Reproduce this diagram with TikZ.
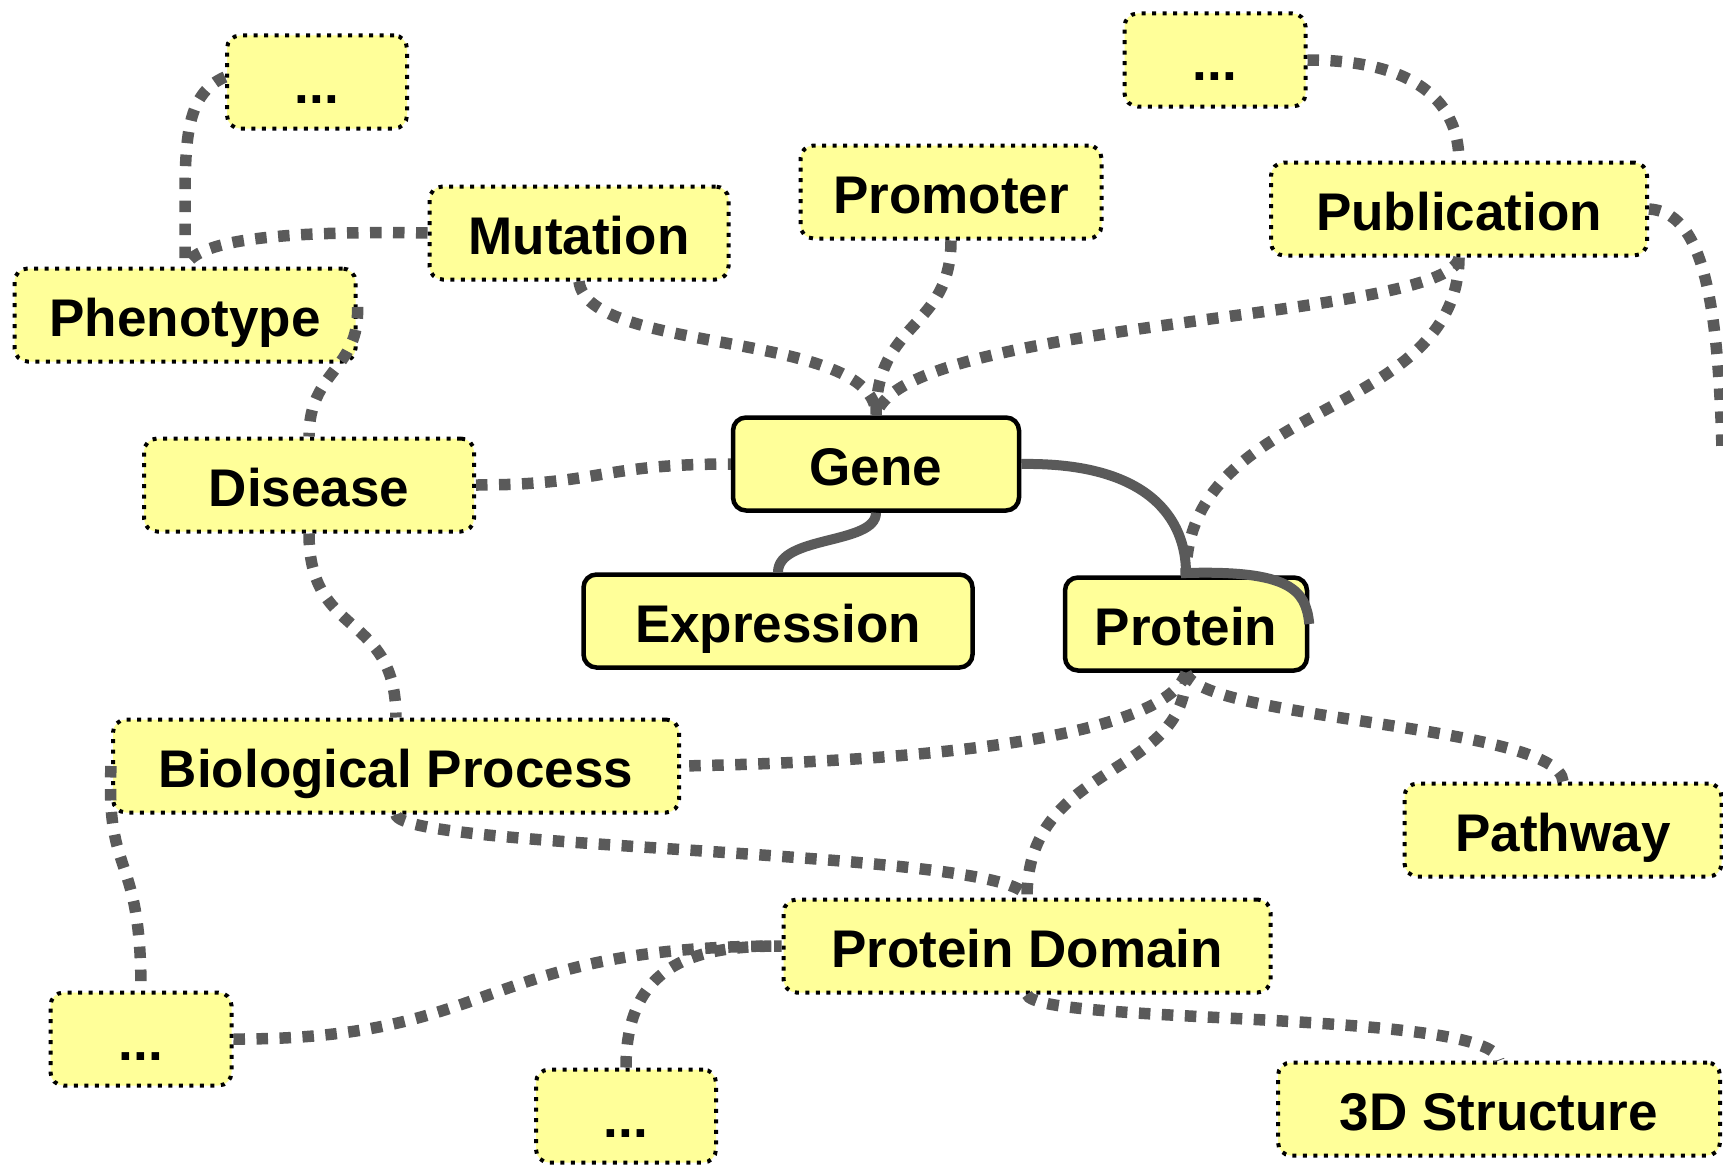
\documentclass[tikz,border=0pt]{standalone}
\usepackage{fontspec}
\setmainfont{Liberation Sans}
\begin{document}
\begin{tikzpicture}[x=1pt,y=-1pt,
  box/.style={fill={rgb,255:red,255;green,255;blue,153}, rounded corners=13pt,
    inner sep=0pt, minimum height=93pt, text height=50pt, text depth=8pt,
    font=\fontsize{53}{60}\selectfont\bfseries, align=center},
  dotbox/.style={box, draw=black, line width=4pt, dash pattern=on 4pt off 6.5pt},
  solidbox/.style={box, draw=black, line width=4.5pt},
  link/.style={draw={rgb,255:red,90;green,90;blue,90}, line width=11.5pt, dash pattern=on 11.5pt off 11.5pt},
  strong/.style={draw={rgb,255:red,90;green,90;blue,90}, line width=10pt}
]
\useasboundingbox (0,0) rectangle (1723,1164);

\node[dotbox, minimum width=180pt] (dotsA) at (317,82) {...};
\node[dotbox, minimum width=299pt] (mut) at (579,233) {Mutation};
\node[dotbox, minimum width=301pt] (prom) at (951,192) {Promoter};
\node[dotbox, minimum width=181pt] (dotsB) at (1215,60) {...};
\node[dotbox, minimum width=376pt] (pub) at (1459,209) {Publication};
\node[dotbox, minimum width=341pt] (phen) at (185,315) {Phenotype};
\node[dotbox, minimum width=330pt] (dis) at (309,485) {Disease};
\node[solidbox, minimum width=286pt] (gene) at (876,464) {Gene};
\node[solidbox, minimum width=389pt] (expr) at (778,621) {Expression};
\node[solidbox, minimum width=242pt] (prot) at (1186,624) {Protein};
\node[dotbox, minimum width=566pt] (bp) at (396,766) {Biological Process};
\node[dotbox, minimum width=317pt] (path) at (1563,830) {Pathway};
\node[dotbox, minimum width=487pt] (pd) at (1027,946) {Protein Domain};
\node[dotbox, minimum width=181pt] (dotsC) at (141,1039) {...};
\node[dotbox, minimum width=180pt] (dotsD) at (626,1116) {...};
\node[dotbox, minimum width=442pt] (struct) at (1499,1109) {3D Structure};
\coordinate (edgeR) at (1722,450);

% connectors
\draw[link] ([yshift=5pt]dotsA.west) .. controls (190,92) and (186,130) .. (185,185) -- (phen.north);
\draw[link] (mut.west) .. controls (250,230) and (195,245) .. (phen.north);
\draw[link] (mut.south) .. controls (588,355) and (876,330) .. (gene.north);
\draw[link] (prom.south) .. controls (951,330) and (876,320) .. (gene.north);
\draw[link] (pub.south) .. controls (1450,320) and (900,320) .. (gene.north);
\draw[link] (pub.south) .. controls (1458,420) and (1186,400) .. (prot.north);
\draw[link] (pub.east) .. controls (1700,212) and (1718,290) .. (edgeR);
\draw[link] (dotsB.east) .. controls (1390,60) and (1458,85) .. (pub.north);
\draw[link] ([yshift=8pt]phen.east) .. controls (360,370) and (309,370) .. (dis.north);
\draw[link] (dis.east) .. controls (600,485) and (600,464) .. (gene.west);
\draw[link] (dis.south) .. controls (309,640) and (396,610) .. (bp.north);
\draw[link] (prot.south) .. controls (1170,725) and (1000,760) .. (bp.east);
\draw[link] (prot.south) .. controls (1186,780) and (1027,760) .. (pd.north);
\draw[link] (prot.south) .. controls (1200,720) and (1560,725) .. (path.north);
\draw[link] (bp.south) .. controls (400,850) and (1020,850) .. (pd.north);
\draw[link] (bp.west) .. controls (106,880) and (141,850) .. (dotsC.north);
\draw[link] (dotsC.east) .. controls (500,1040) and (480,946) .. (pd.west);
\draw[link] (dotsD.north) .. controls (626,960) and (700,946) .. (pd.west);
\draw[link] (pd.south) .. controls (1035,1025) and (1495,1010) .. (struct.north);
\draw[strong] (gene.south) .. controls (876,545) and (778,535) .. (expr.north);
\draw[strong] (gene.east) .. controls (1150,462) and (1186,520) .. (1186,573)
  .. controls (1290,570) and (1306,590) .. (prot.east);
\end{tikzpicture}
\end{document}
